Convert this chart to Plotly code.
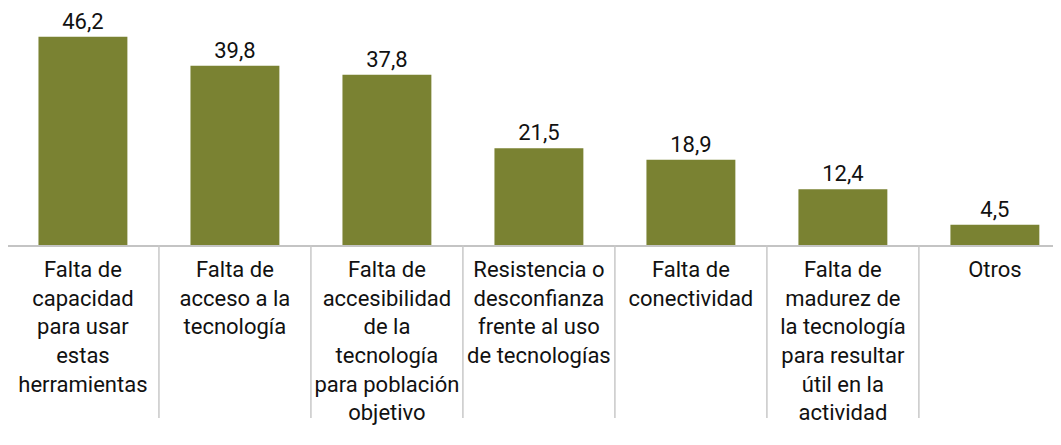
import plotly.graph_objects as go

categories = [
    "Falta de<br>capacidad<br>para usar<br>estas<br>herramientas",
    "Falta de<br>acceso a la<br>tecnología",
    "Falta de<br>accesibilidad<br>de la<br>tecnología<br>para población<br>objetivo",
    "Resistencia o<br>desconfianza<br>frente al uso<br>de tecnologías",
    "Falta de<br>conectividad",
    "Falta de<br>madurez de<br>la tecnología<br>para resultar<br>útil en la<br>actividad",
    "Otros",
]
values = [46.2, 39.8, 37.8, 21.5, 18.9, 12.4, 4.5]
value_labels = [f"{v:.1f}".replace(".", ",") for v in values]

FONT = "Roboto"
BAR = "#7a8232"

fig = go.Figure(go.Bar(
    x=list(range(len(categories))),
    y=values,
    width=0.585,
    marker=dict(color=BAR, line=dict(width=0)),
    text=value_labels,
    textposition="outside",
    textfont=dict(family=FONT, size=22, color="#111111"),
    cliponaxis=False,
))

shapes = []
for i in range(len(categories) - 1):
    shapes.append(dict(type="line", xref="x", yref="paper",
                       x0=i + 0.5, x1=i + 0.5, y0=0, y1=-0.73,
                       line=dict(color="#c8c8c8", width=1.5)))
fig.update_layout(
    width=1053, height=437,
    margin=dict(l=0, r=0, t=0, b=200, autoexpand=False),
    paper_bgcolor="white", plot_bgcolor="white",
    showlegend=False,
    shapes=shapes,
    font=dict(family=FONT, color="#111111"),
    xaxis=dict(
        tickmode="array",
        tickvals=list(range(len(categories))),
        ticktext=categories,
        range=[-0.493, 6.435],
        automargin=False,
        showgrid=False, zeroline=False,
        showline=True, linecolor="#c4c4c4", linewidth=1.5,
        ticks="", tickfont=dict(family=FONT, size=22, color="#111111"),
        ticklabelstandoff=4,
        tickangle=0,
    ),
    yaxis=dict(range=[0, 52.6], visible=False, showgrid=False, zeroline=False),
)

fig.write_html("out.html")
